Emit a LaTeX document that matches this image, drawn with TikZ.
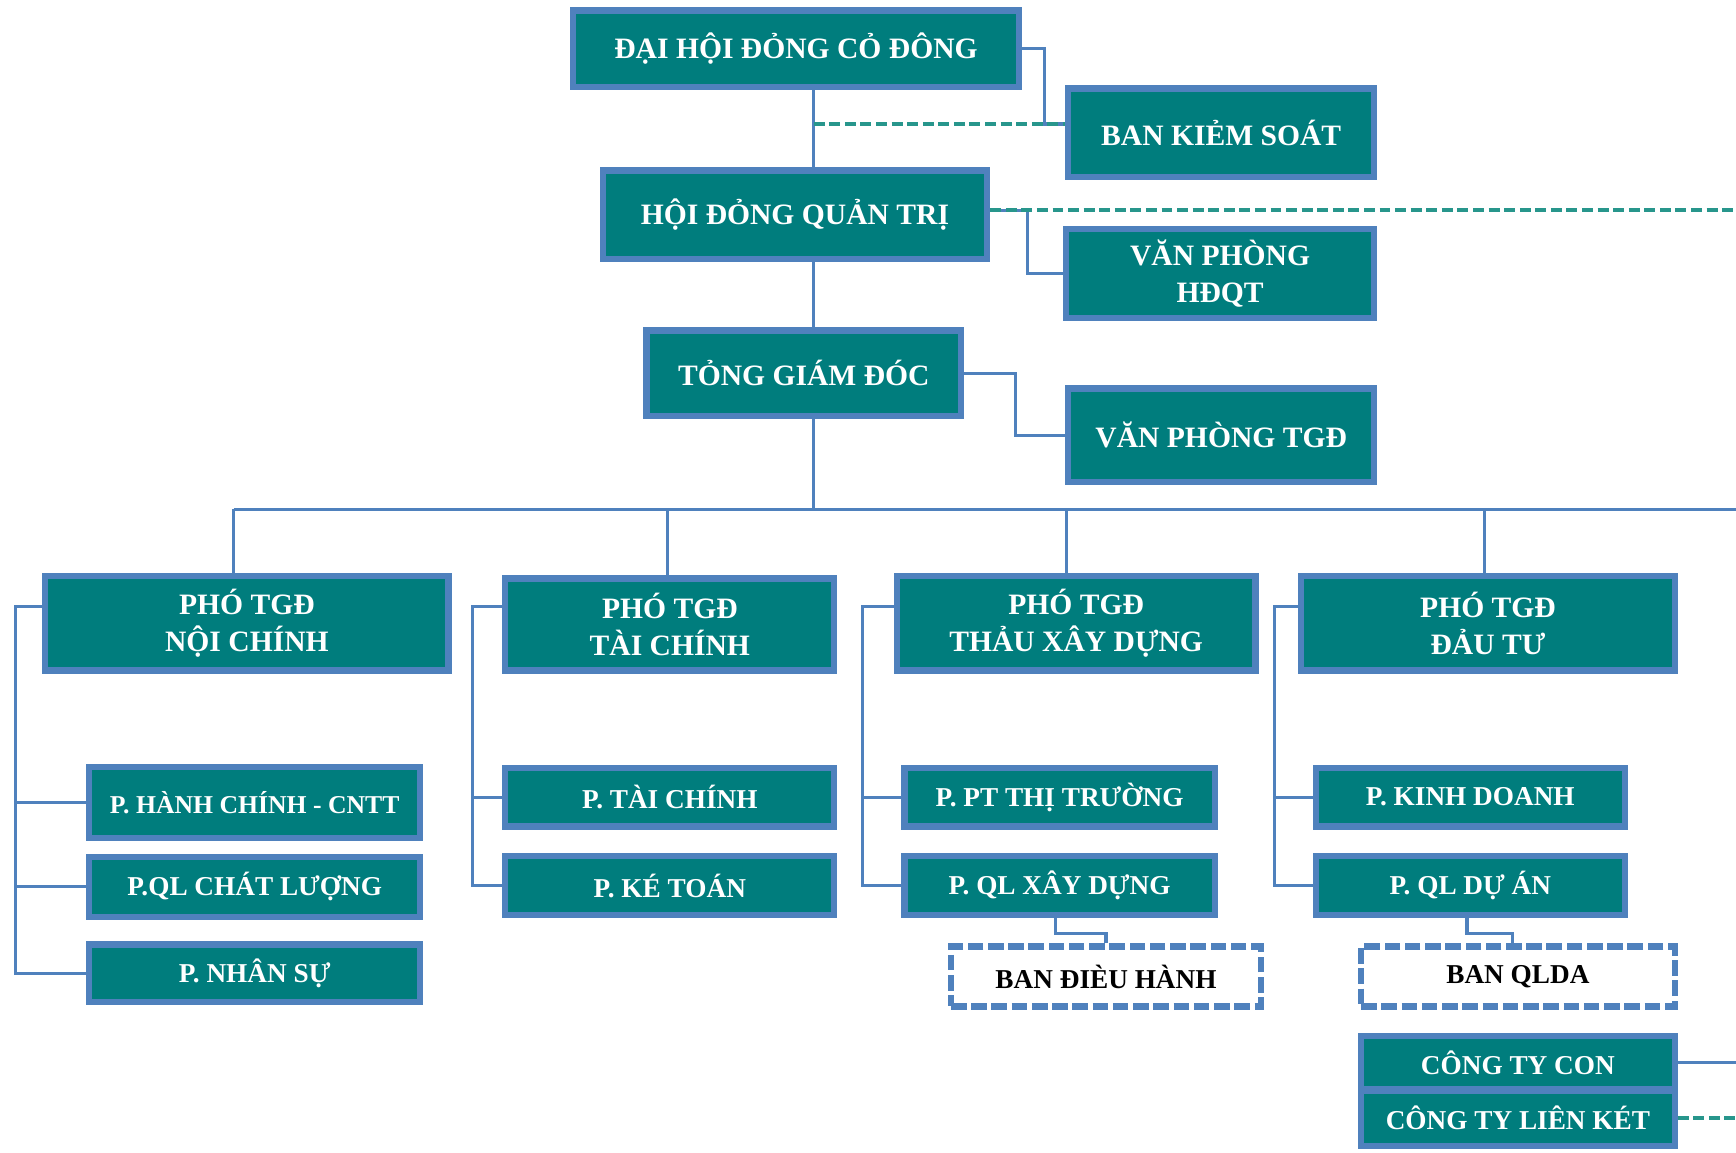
\documentclass[tikz,border=0pt]{standalone}
\usepackage{fontspec}
\setmainfont{Liberation Serif}
\definecolor{teal1}{RGB}{0, 125, 125}
\definecolor{blue1}{RGB}{79, 129, 189}
\definecolor{dash1}{RGB}{40, 150, 140}

\begin{document}
\begin{tikzpicture}[x=0.01cm, y=-0.01cm,
  box/.style={rectangle, fill=teal1, draw=blue1, line width=1.6pt, text=white, align=center, inner sep=0pt, font=\bfseries\fontsize{7.6}{9.4}\selectfont},
  dept/.style={box, font=\bfseries\fontsize{7}{8}\selectfont},
  ban/.style={dept, fill=white, text=black, dash pattern=on 4pt off 1.2pt},
  link/.style={draw=blue1, line width=0.8pt},
  dlink/.style={draw=dash1, line width=1pt, dash pattern=on 2.8pt off 1.2pt}]
 \useasboundingbox (0,0) rectangle (1568,1041);

  \node[box, minimum width=4.03cm, minimum height=0.69cm] (n1) at (719,44) {ĐẠI HỘI ĐỎNG CỎ ĐÔNG};
  \node[box, minimum width=2.76cm, minimum height=0.80cm] (n2) at (1103,120) {BAN KIẺM SOÁT};
  \node[box, minimum width=3.47cm, minimum height=0.80cm] (n3) at (718,194) {HỘI ĐỎNG QUẢN TRỊ};
  \node[box, minimum width=2.78cm, minimum height=0.81cm] (n4) at (1102,247) {VĂN PHÒNG\\HĐQT};
  \node[box, minimum width=2.84cm, minimum height=0.77cm] (n5) at (726,337) {TỎNG GIÁM ĐÓC};
  \node[box, minimum width=2.76cm, minimum height=0.84cm] (n6) at (1103,393) {VĂN PHÒNG TGĐ};

  \node[box, minimum width=3.64cm, minimum height=0.85cm] (n7) at (223,563) {PHÓ TGĐ\\NỘI CHÍNH};
  \node[box, minimum width=2.97cm, minimum height=0.83cm] (n8) at (605,564) {PHÓ TGĐ\\TÀI CHÍNH};
  \node[box, minimum width=3.24cm, minimum height=0.85cm] (n9) at (972,563) {PHÓ TGĐ\\THẢU XÂY DỰNG};
  \node[box, minimum width=3.37cm, minimum height=0.85cm] (n10) at (1344,563) {PHÓ TGĐ\\ĐẢU TƯ};

  \node[dept, minimum width=2.99cm, minimum height=0.64cm, font=\bfseries\fontsize{6.6}{8}\selectfont] (n11) at (230,725) {P. HÀNH CHÍNH - CNTT};
  \node[dept, minimum width=2.99cm, minimum height=0.54cm] (n12) at (230,801) {P.QL CHÁT LƯỢNG};
  \node[dept, minimum width=2.99cm, minimum height=0.52cm] (n13) at (230,879) {P. NHÂN SỰ};
  \node[dept, minimum width=2.97cm, minimum height=0.53cm] (n14) at (605,720) {P. TÀI CHÍNH};
  \node[dept, minimum width=2.97cm, minimum height=0.53cm] (n15) at (605,800) {P. KÉ TOÁN};
  \node[dept, minimum width=2.80cm, minimum height=0.53cm] (n16) at (957,720) {P. PT THỊ TRƯỜNG};
  \node[dept, minimum width=2.80cm, minimum height=0.53cm] (n17) at (957,800) {P. QL XÂY DỰNG};
  \node[ban, minimum width=2.80cm, minimum height=0.54cm] (n18) at (999,882) {BAN ĐIÈU HÀNH};
  \node[dept, minimum width=2.79cm, minimum height=0.53cm] (n19) at (1328,720) {P. KINH DOANH};
  \node[dept, minimum width=2.79cm, minimum height=0.53cm] (n20) at (1328,800) {P. QL DỰ ÁN};
  \node[ban, minimum width=2.83cm, minimum height=0.54cm] (n21) at (1371,882) {BAN QLDA};
  \node[dept, minimum width=2.83cm, minimum height=0.48cm] (n22) at (1371,960) {CÔNG TY CON};
  \node[dept, minimum width=2.83cm, minimum height=0.50cm] (n23) at (1371,1010) {CÔNG TY LIÊN KÉT};

  \coordinate (b0) at (735,460);
  \coordinate (be) at (1568,460);
  \coordinate (d1) at (211,460);
  \coordinate (d2) at (603,460);
  \coordinate (d3) at (963,460);
  \coordinate (d4) at (1341,460);
  \coordinate (v1) at (14,0);
  \coordinate (v2) at (427,0);
  \coordinate (v3) at (779,0);
  \coordinate (v4) at (1151,0);

  % main line
  \draw[link] (n1.south -| b0) -- (n3.north -| b0);
  \draw[link] (n3.south -| b0) -- (n5.north -| b0);
  \draw[link] (n5.south -| b0) -- (b0);
  \draw[link] (d1) -- (be);
  \foreach \d/\to in {d1/n7, d2/n8, d3/n9, d4/n10}
   \draw[link] (\d) -- (\d |- \to.north);

  \draw[link] (n1.east) -- ++(20,0) |- ([yshift=0.08cm]n2.west);
  \draw[dlink] ([yshift=0.08cm]n2.west -| b0) -- ([yshift=0.08cm]n2.west);
  \draw[link] ([yshift=0.04cm]n3.east) -- ++(34,0) |- (n4.west);
  \draw[dlink] ([yshift=0.04cm]n3.east) -- ([yshift=0.04cm]n3.east -| be);
  \draw[link] (n5.east) -- ++(46,0) |- (n6.west);

  % branches
  \draw[link] ([yshift=0.15cm]n7.west) -- ([yshift=0.15cm]n7.west -| v1) |- (n13.west);
  \draw[link] ([yshift=0.16cm]n8.west) -- ([yshift=0.16cm]n8.west -| v2) |- (n15.west);
  \draw[link] ([yshift=0.15cm]n9.west) -- ([yshift=0.15cm]n9.west -| v3) |- (n17.west);
  \draw[link] ([yshift=0.15cm]n10.west) -- ([yshift=0.15cm]n10.west -| v4) |- (n20.west);
  \foreach \to/\v in {n11/v1, n12/v1, n14/v2, n16/v3, n19/v4}
   \draw[link] (\to.west) -- (\to.west -| \v);

  \draw[link] ([xshift=-0.04cm]n17.south) -- ++(0,14) -| (n18.north);
  \draw[link] ([xshift=-0.03cm]n20.south) -- ++(0,14) -| ([xshift=-0.05cm]n21.north);
  \draw[link] (n22.east) -- (n22.east -| be);
  \draw[dlink] (n23.east) -- (n23.east -| be);
    \end{tikzpicture}
\end{document}
